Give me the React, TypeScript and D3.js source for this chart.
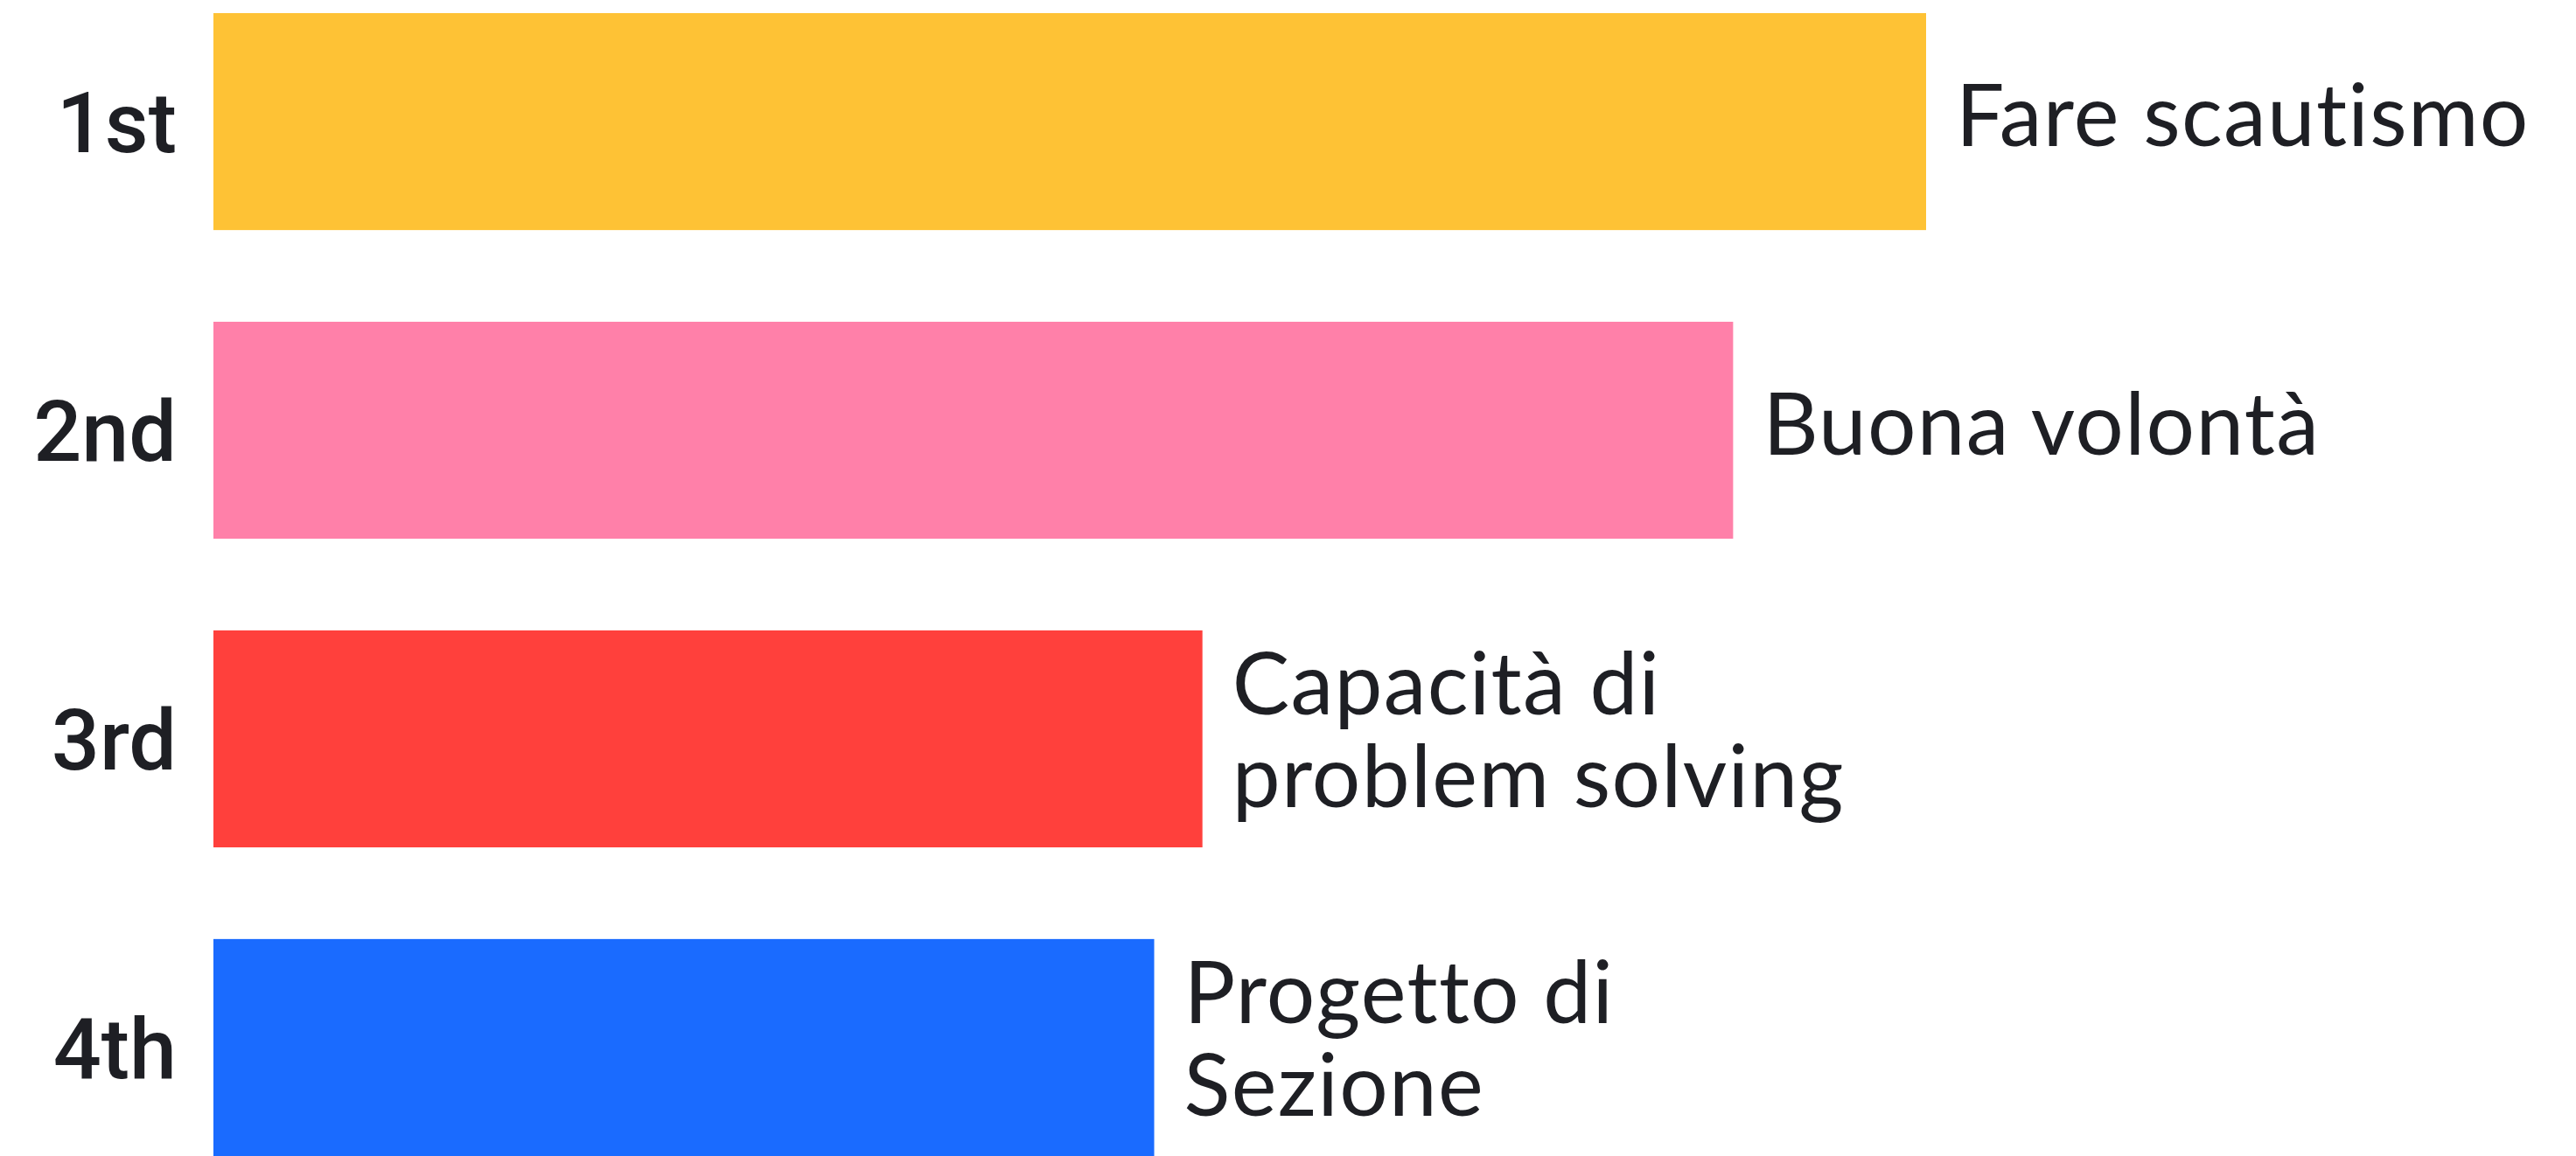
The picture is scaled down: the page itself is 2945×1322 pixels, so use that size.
import React from "react";
import * as d3 from "d3";

const ranks = ["1st", "2nd", "3rd", "4th"];
const labels = [
  ["Fare scautismo"],
  ["Buona volontà"],
  ["Capacità di", "problem solving"],
  ["Progetto di", "Sezione"],
];
const scores = [71, 63, 41, 39];
const colors = ["#FEC235", "#FF80A9", "#FF403C", "#1A6BFF"];

const W = 2945;
const H = 1322;

export default function App() {
  const x = d3.scaleLinear().domain([0, 71]).range([244, 2202]);
  const y = d3
    .scaleBand<string>()
    .domain(ranks)
    .range([15, 1322])
    .paddingInner(0.297)
    .paddingOuter(0);
  const bw = y.bandwidth();
  const lineH = 106;
  const fs = 98;
  return (
    <svg
      width={W}
      height={H}
      style={{ position: "absolute", left: 0, top: 0, background: "#fff" }}
    >
      {ranks.map((r, i) => {
        const y0 = y(r)!;
        const cy = y0 + bw / 2;
        const lines = labels[i];
        const n = lines.length;
        const off = n > 1 ? 9 : 7;
        const lx = x(scores[i]) + 34;
        const firstY = cy + 34.5 - off - ((n - 1) / 2) * lineH;
        return (
          <g key={r}>
            <rect x={x(0)} y={y0} width={x(scores[i]) - x(0)} height={bw} fill={colors[i]} />
            <text
              x={202}
              y={cy + 35}
              textAnchor="end"
              fontFamily="Roboto, 'Liberation Sans', Arial, sans-serif"
              fontWeight={500}
              fontSize={97}
              fill="#1e1f24"
            >
              {r}
            </text>
            <text
              x={lx}
              y={firstY}
              fontFamily="Lato, 'Open Sans', sans-serif"
              fontWeight={400}
              fontSize={fs}
              letterSpacing={1.3}
              style={{ fontVariantLigatures: "none" }}
              fill="#1e1f24"
            >
              {lines.map((ln, j) => (
                <tspan key={j} x={lx} dy={j === 0 ? 0 : lineH}>
                  {ln}
                </tspan>
              ))}
            </text>
          </g>
        );
      })}
    </svg>
  );
}
